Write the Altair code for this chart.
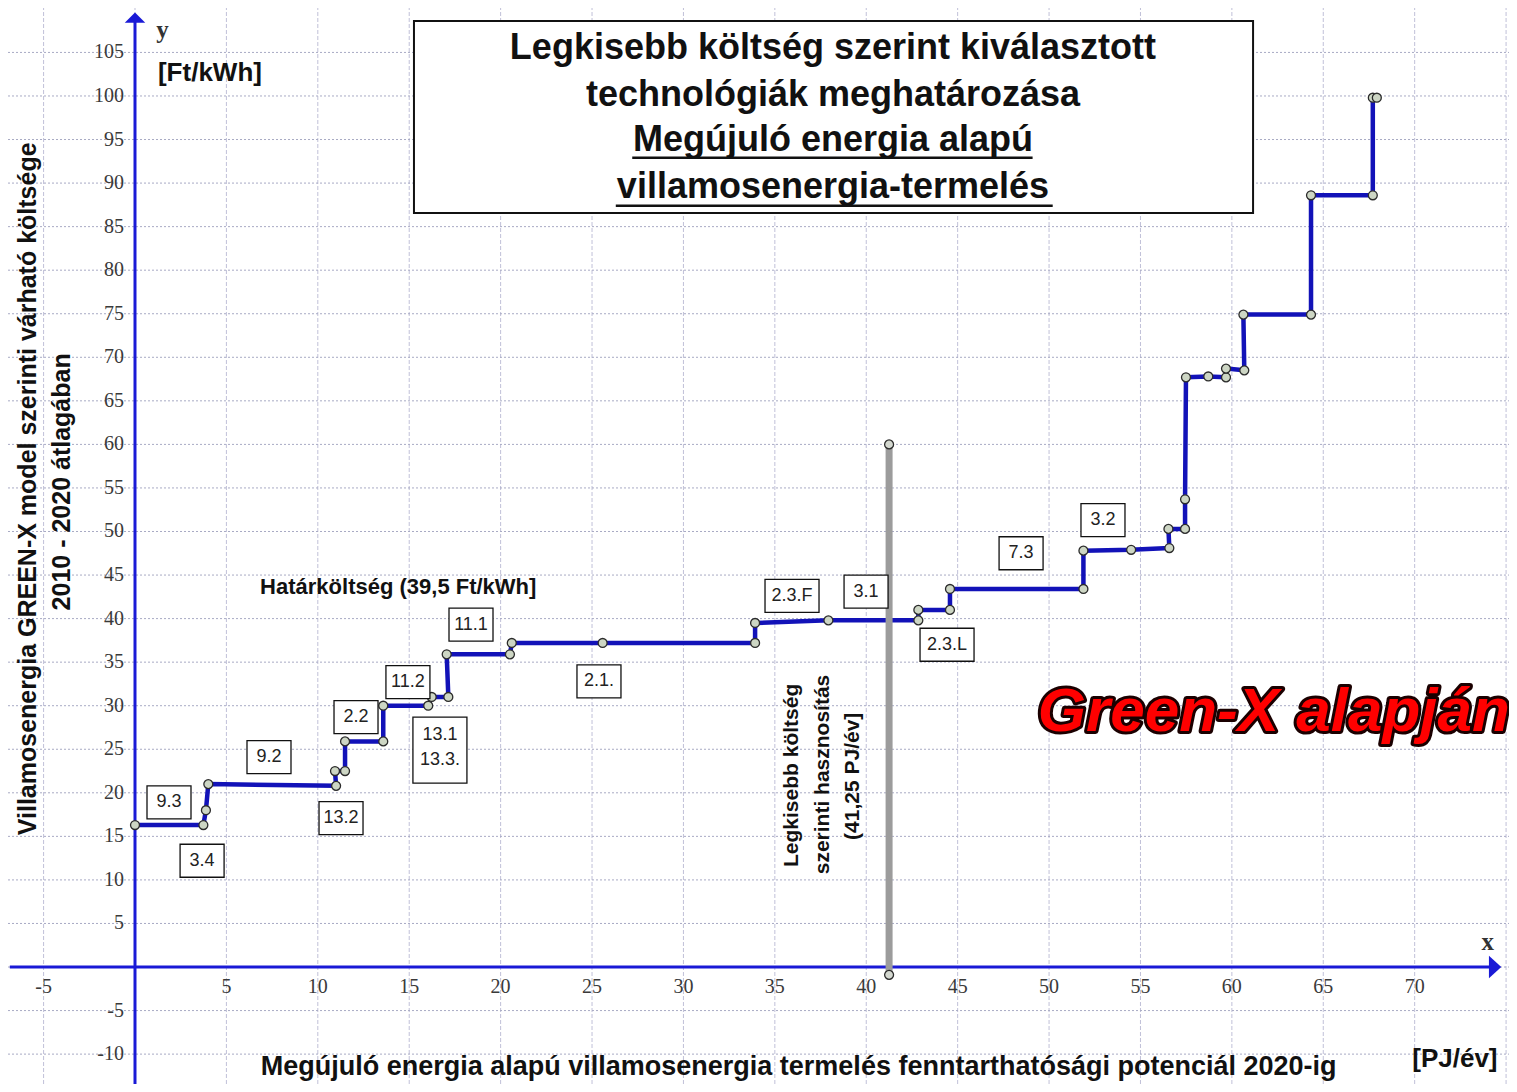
import altair as alt
import pandas as pd

# ---- step curve: cumulative potential [PJ/év] vs. cost [Ft/kWh] ----
step_x = [0, 3.74, 3.88, 4.01, 11.0, 10.94, 11.49, 11.49, 13.58, 13.58, 16.04, 16.23,
          17.14, 17.05, 20.51, 20.61, 25.58, 33.92, 33.92, 37.93, 42.85, 42.85, 44.58,
          44.58, 51.88, 51.88, 54.49, 56.58, 56.53, 57.44, 57.44, 57.49, 58.71, 59.68,
          59.68, 60.68, 60.63, 64.33, 64.33, 67.71, 67.71, 67.93]
step_y = [16.3, 16.3, 18.0, 21.0, 20.8, 22.5, 22.5, 25.9, 25.9, 30.0, 30.0, 31.0,
          31.0, 35.9, 35.9, 37.2, 37.2, 37.2, 39.5, 39.8, 39.8, 41.0, 41.0,
          43.4, 43.4, 47.8, 47.9, 48.1, 50.3, 50.3, 53.7, 67.7, 67.8, 67.7,
          68.7, 68.5, 74.9, 74.9, 88.6, 88.6, 99.8, 99.8]

# ---- technology labels ----
label_text = ["9.3", "3.4", "9.2", "13.2", "2.2", "11.2", "13.1\n13.3.", "11.1",
              "2.1.", "2.3.F", "3.1", "2.3.L", "7.3", "3.2"]
label_x = [1.86, 3.67, 7.33, 11.27, 12.09, 14.93, 16.68, 18.38, 25.38, 35.94,
           39.99, 44.42, 48.47, 52.95]
label_y = [18.9, 12.2, 24.1, 17.1, 28.7, 32.7, 24.9, 39.3, 32.8, 42.6, 43.1,
           37.0, 47.5, 51.3]

# ---- least-cost limit ----
limit_x = [41.25, 41.25]
limit_y = [60.0, -0.9]

# ---- ticks / grid ----
x_ticks = [-5, 5, 10, 15, 20, 25, 30, 35, 40, 45, 50, 55, 60, 65, 70]
y_ticks = [-10, -5, 5, 10, 15, 20, 25, 30, 35, 40, 45, 50, 55, 60, 65, 70, 75,
           80, 85, 90, 95, 100, 105]
x_grid = [-5, 0, 5, 10, 15, 20, 25, 30, 35, 40, 45, 50, 55, 60, 65, 70, 75]
y_grid = [-10, -5, 0, 5, 10, 15, 20, 25, 30, 35, 40, 45, 50, 55, 60, 65, 70, 75,
          80, 85, 90, 95, 100, 105]

title_lines = ["Legkisebb költség szerint kiválasztott",
               "technológiák meghatározása",
               "Megújuló energia alapú",
               " villamosenergia-termelés"]

# ---------------------------------------------------------------
W, H = 1501, 1076
XMIN, XMAX = -6.947, 75.16
YMIN, YMAX = -13.43, 110.1
PX_X = W / (XMAX - XMIN)
PX_Y = H / (YMAX - YMIN)

XS = alt.Scale(domain=[XMIN, XMAX], nice=False, zero=False)
YS = alt.Scale(domain=[YMIN, YMAX], nice=False, zero=False)


def X(f="x"):
    return alt.X(f"{f}:Q", scale=XS, axis=None)


def Y(f="y"):
    return alt.Y(f"{f}:Q", scale=YS, axis=None)


AX_BLUE = "#1a1ad6"
LINE_BLUE = "#1212b8"
FONT = "Liberation Sans"
LH = 25

step_df = pd.DataFrame({"x": step_x, "y": step_y, "i": range(len(step_x))})

lab_df = pd.DataFrame({"t": label_text, "x": label_x, "y": label_y})
lab_df["nl"] = lab_df["t"].str.count("\n") + 1
lab_df["w"] = lab_df["t"].apply(lambda s: max(44, 10 * max(len(p) for p in s.split("\n")) + 4)) / PX_X
lab_df["h"] = (lab_df["nl"] * 33) / PX_Y
lab_df["x1"] = lab_df["x"] - lab_df["w"] / 2
lab_df["x2"] = lab_df["x"] + lab_df["w"] / 2
lab_df["y1"] = lab_df["y"] - lab_df["h"] / 2
lab_df["y2"] = lab_df["y"] + lab_df["h"] / 2
lab_df["ty"] = lab_df["y"] + (lab_df["nl"] - 1) * (LH / 2 + 3) / PX_Y

# grid
vgrid = alt.Chart(pd.DataFrame({"x": x_grid, "y": [YMIN] * len(x_grid), "y2": [YMAX] * len(x_grid)})).mark_rule(
    color="#c0c0d8", strokeWidth=1, strokeDash=[4, 2]
).encode(x=X(), y=Y(), y2="y2:Q")
hgrid = alt.Chart(pd.DataFrame({"y": y_grid, "x": [XMIN] * len(y_grid), "x2": [XMAX] * len(y_grid)})).mark_rule(
    color="#a8aac4", strokeWidth=1, strokeDash=[2, 2]
).encode(y=Y(), x=X(), x2="x2:Q")

# axes
xaxis = alt.Chart(pd.DataFrame({"x": [XMIN + 0.1], "x2": [74.2], "y": [0]})).mark_rule(
    color=AX_BLUE, strokeWidth=3).encode(x=X(), x2="x2:Q", y=Y())
yaxis = alt.Chart(pd.DataFrame({"x": [0], "y": [YMIN], "y2": [108.8]})).mark_rule(
    color=AX_BLUE, strokeWidth=3).encode(x=X(), y=Y(), y2="y2:Q")
arrow_up = alt.Chart(pd.DataFrame({"x": [0], "y": [109.0]})).mark_point(
    shape="M0,-0.5L1,0.5L-1,0.5Z", size=420, filled=True, color=AX_BLUE, opacity=1
).encode(x=X(), y=Y())
arrow_right = alt.Chart(pd.DataFrame({"x": [74.4], "y": [0]})).mark_point(
    shape="M0.55,0L-0.55,1L-0.55,-1Z", size=500, filled=True, color=AX_BLUE, opacity=1
).encode(x=X(), y=Y())

xlab = alt.Chart(pd.DataFrame({"x": x_ticks, "y": [0] * len(x_ticks),
                               "t": [str(v) for v in x_ticks]})).mark_text(
    font="Liberation Serif", fontSize=20, color="#3a3a3a", baseline="middle", align="center", dy=20
).encode(x=X(), y=Y(), text="t:N")
ylab = alt.Chart(pd.DataFrame({"y": y_ticks, "x": [0] * len(y_ticks),
                               "t": [str(v) for v in y_ticks]})).mark_text(
    font="Liberation Serif", fontSize=20, color="#3a3a3a", baseline="middle", align="right", dx=-11
).encode(y=Y(), x=X(), text="t:N")

axis_letters = alt.Chart(pd.DataFrame({"x": [1.5, 74.0], "y": [107.6, 2.9], "t": ["y", "x"]})).mark_text(
    font="Liberation Serif", fontSize=25, fontWeight="bold", color="#333", baseline="middle"
).encode(x=X(), y=Y(), text="t:N")

# step curve
step_line = alt.Chart(step_df).mark_line(color=LINE_BLUE, strokeWidth=4.5, strokeJoin="round").encode(
    x=X(), y=Y(), order="i:Q")
step_pts = alt.Chart(step_df).mark_circle(
    size=80, color="#cdd6c4", stroke="#2b2b2b", strokeWidth=1.3, opacity=1).encode(x=X(), y=Y())

# least-cost line
lim_df = pd.DataFrame({"x": limit_x, "y": limit_y, "i": [0, 1]})
lim_line = alt.Chart(lim_df).mark_line(color="#9c9c9c", strokeWidth=7).encode(x=X(), y=Y(), order="i:Q")
lim_pts = alt.Chart(lim_df).mark_circle(
    size=80, color="#d4d8d0", stroke="#2b2b2b", strokeWidth=1.3, opacity=1).encode(x=X(), y=Y())

# label boxes
lab_box = alt.Chart(lab_df).mark_rect(fill="white", stroke="#111", strokeWidth=1.3).encode(
    x=X("x1"), x2="x2:Q", y=Y("y1"), y2="y2:Q")
lab_txt = alt.Chart(lab_df).mark_text(
    font=FONT, fontSize=18, color="#222", lineBreak="\n", lineHeight=LH, baseline="middle"
).encode(x=X(), y=Y("ty"), text="t:N")

# title box
tbox = alt.Chart(pd.DataFrame({"x": [15.26], "x2": [61.16], "y": [86.57], "y2": [108.6]})).mark_rect(
    fill="white", stroke="#111", strokeWidth=2).encode(x=X(), x2="x2:Q", y=Y(), y2="y2:Q")
ttxt = alt.Chart(pd.DataFrame({"t": title_lines, "x": [38.18] * 4,
                               "y": [105.5, 100.1, 94.9, 89.5]})).mark_text(
    font=FONT, fontSize=36, fontWeight="bold", color="#111", baseline="middle"
).encode(x=X(), y=Y(), text="t:N")
tund = alt.Chart(pd.DataFrame({"x": [27.2, 26.3], "x2": [49.1, 50.2], "y": [92.9, 87.4]})).mark_rule(
    color="#111", strokeWidth=2.5).encode(x=X(), x2="x2:Q", y=Y())

# other texts
texts = pd.DataFrame({
    "t": ["[Ft/kWh]", "[PJ/év]",
          "Megújuló energia alapú villamosenergia termelés fenntarthatósági potenciál 2020-ig",
          "Határköltség (39,5 Ft/kWh]"],
    "x": [4.1, 72.2, 36.3, 14.4],
    "y": [102.6, -10.6, -11.5, 43.6],
    "fs": [26, 26, 27, 22],
})
other_txt = alt.Chart(texts).mark_text(
    font=FONT, fontWeight="bold", color="#111", baseline="middle"
).encode(x=X(), y=Y(), text="t:N", size=alt.Size("fs:Q", scale=None, legend=None))

rot = pd.DataFrame({
    "t": ["Villamosenergia GREEN-X model szerinti várható költsége", "2010 - 2020 átlagában",
          "Legkisebb költség", "szerinti hasznosítás", "(41,25 PJ/év]"],
    "x": [-5.85, -3.99, 35.94, 37.64, 39.28],
    "y": [54.9, 55.7, 22.0, 22.1, 21.9],
    "fs": [25, 25, 21, 21, 21],
})
rot_txt = alt.Chart(rot).mark_text(
    font=FONT, fontWeight="bold", color="#111", baseline="middle", angle=270
).encode(x=X(), y=Y(), text="t:N", size=alt.Size("fs:Q", scale=None, legend=None))

gx_df = pd.DataFrame({"t": ["Green-X alapján"], "x": [62.3], "y": [29.3]})
gx_out = alt.Chart(gx_df).mark_text(
    font=FONT, fontSize=62, fontWeight="bold", fontStyle="italic", color="#1a0000",
    stroke="#1a0000", strokeWidth=6, strokeJoin="round", baseline="middle"
).encode(x=X(), y=Y(), text="t:N")
gx_in = alt.Chart(gx_df).mark_text(
    font=FONT, fontSize=62, fontWeight="bold", fontStyle="italic", color="#ff0000", baseline="middle"
).encode(x=X(), y=Y(), text="t:N")

chart = alt.layer(
    vgrid, hgrid, xaxis, yaxis, arrow_up, arrow_right, xlab, ylab, axis_letters,
    step_line, lim_line, step_pts, lim_pts, lab_box, lab_txt,
    tbox, ttxt, tund, other_txt, rot_txt, gx_out, gx_in
).properties(
    width=W, height=H, padding=0, autosize=alt.AutoSizeParams(type="none"),
    background="white"
).configure_view(stroke=None)

chart.save("out.html", embed_options={"renderer": "svg", "actions": False})
